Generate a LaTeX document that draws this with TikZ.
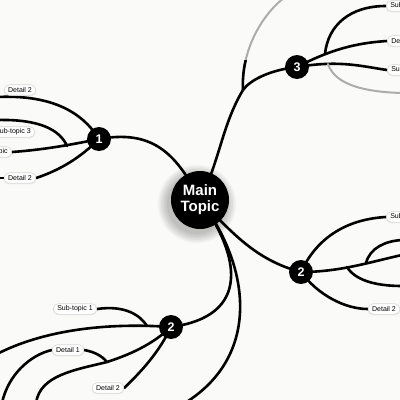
\documentclass[tikz,border=0pt]{standalone}
\usepackage{fontspec}
\setmainfont{Liberation Sans}
\pgfdeclarelayer{back}
\pgfdeclarelayer{bg}
\pgfsetlayers{back,bg,main}
\definecolor{paper}{RGB}{250,250,248}
\begin{document}
\begin{tikzpicture}[x=1pt,y=-1pt,
  link/.style={line width=2.6pt, line cap=round},
  faint/.style={line width=2pt, line cap=round, draw=gray!65},
  maintopic/.style={circle, fill=black, text=white, font=\bfseries\fontsize{15}{16}\selectfont, align=center, minimum size=58pt, inner sep=0pt},
  numnode/.style={circle, fill=black, text=white, font=\bfseries\fontsize{12.5}{13}\selectfont, minimum size=24pt, inner sep=0pt},
  pill/.style={rounded corners=5pt, draw=gray!30, line width=0.6pt, fill=white, font=\fontsize{7}{8}\selectfont, inner xsep=4pt, inner ysep=1.5pt, minimum height=10.5pt,
    preaction={draw=black, line width=1.2pt, opacity=0.06, transform canvas={yshift=-0.6pt}}},
  shade/.style={fill=black, opacity=0.035}]
\useasboundingbox (0,0) rectangle (400,400);
\begin{pgfonlayer}{back}
\fill[paper] (0,0) rectangle (400,400);
% soft shadow of the main topic
\foreach \r in {30,31.5,33,34.5,36,37.5,39} {
  \fill[shade] (197,204) circle[radius=\r];
}
\end{pgfonlayer}

% topic nodes
\node[maintopic] (main) at (200,200) {Main\\Topic};
\node[numnode] (n1) at (99,139) {1};
\node[numnode] (n3) at (297,67) {3};
\node[numnode] (n2r) at (301,272) {2};
\node[numnode] (n2b) at (171,327) {2};

% labels, branch 1
\node[pill] (d1a) at (20,90) {Detail 2};
\node[pill, anchor=east] (d1b) at (35,132) {Sub-topic 3};
\node[pill, anchor=east] (d1c) at (12,152) {Sub-topic};
\node[pill] (d1d) at (20,178) {Detail 2};
% labels, branch 3
\node[pill, anchor=west] (d3a) at (386,6) {Sub-topic 1};
\node[pill, anchor=west] (d3b) at (387,41) {Detail 1};
\node[pill, anchor=west] (d3c) at (387,70) {Sub-topic 2};
% labels, branch 2 right
\node[pill, anchor=west] (d2a) at (386,217) {Sub-topic 1};
\node[pill] (d2b) at (384,309) {Detail 2};
% labels, branch 2 bottom
\node[pill] (d4a) at (75,309) {Sub-topic 1};
\node[pill] (d4b) at (68,350) {Detail 1};
\node[pill] (d4c) at (108,388) {Detail 2};

% free ends and junctions
\coordinate (e1a) at (-3,97);
\coordinate (e1b) at (-3,120);
\coordinate (e1d) at (-3,178);
\coordinate (j1) at (67,146);
\coordinate (j3a) at (243,90);
\coordinate (e3a) at (285,-3);
\coordinate (j3b) at (325,54);
\coordinate (j3c) at (328,64);
\coordinate (e3c) at (402,93);
\coordinate (j2a) at (347,267);
\coordinate (j2b) at (366,263);
\coordinate (e2a) at (402,255);
\coordinate (e2b) at (402,240);
\coordinate (e2c) at (402,286);
\coordinate (e4a) at (-3,354);
\coordinate (j4a) at (147,326);
\coordinate (e4b) at (2,403);
\coordinate (e4c) at (36,403);
\coordinate (j4b) at (107,362);
\coordinate (e5) at (185,403);

\begin{pgfonlayer}{bg}
% main connections
\draw[link] (main.center) .. controls (175,150) and (150,130) .. (n1.center);
\draw[link] (main.center) .. controls (220,160) and (222,125) .. (j3a)
                          .. controls (250,80) and (270,70) .. (n3.center);
\draw[link] (main.center) .. controls (232,232) and (255,260) .. (n2r.center);
\draw[link] (main.center) .. controls (240,255) and (252,316) .. (n2b.center);
\draw[link] (main.center) .. controls (250,265) and (262,355) .. (e5);

% branch 1
\draw[link] (e1a) .. controls (40,95) and (78,105) .. (n1.center);
\draw[link] (e1b) .. controls (40,119) and (60,130) .. (j1);
\draw[link] (d1c.east) .. controls (40,150) and (65,146) .. (n1.center);
\draw[link] (e1d) -- (d1d.west);
\draw[link] (d1d.east) .. controls (60,170) and (80,158) .. (n1.center);

% branch 3
\draw[faint] (j3a) .. controls (241,55) and (258,18) .. (e3a);
\begin{scope}
  \clip (200,60) rectangle (280,100);
  \draw[link] (j3a) .. controls (241,55) and (258,18) .. (e3a);
\end{scope}
\draw[link] (n3.center) .. controls (330,50) and (355,43) .. (d3b.west);
\draw[link] (j3b) .. controls (328,25) and (350,6) .. (d3a.west);
\draw[link] (n3.center) .. controls (340,60) and (360,66) .. (d3c.west);
\draw[faint] (j3c) .. controls (335,85) and (365,92) .. (e3c);

% branch 2 right
\draw[link] (n2r.center) .. controls (318,235) and (350,219) .. (d2a.west);
\draw[link] (n2r.center) .. controls (340,272) and (370,262) .. (e2a);
\draw[link] (j2b) .. controls (370,248) and (385,241) .. (e2b);
\draw[link] (j2a) .. controls (355,280) and (375,286) .. (e2c);
\draw[link] (n2r.center) .. controls (318,295) and (345,309) .. (d2b.west);

% branch 2 bottom
\draw[link] (e4a) .. controls (40,332) and (100,322) .. (n2b.center);
\draw[link] (d4a.east) .. controls (125,305) and (140,315) .. (j4a);
\draw[link] (e4b) .. controls (8,375) and (30,355) .. (d4b.west);
\draw[link] (d4b.east) .. controls (95,352) and (102,356) .. (j4b);
\draw[link] (e4c) .. controls (40,375) and (75,370) .. (j4b);
\draw[link] (j4b) .. controls (135,353) and (155,342) .. (n2b.center);
\draw[link] (d4c.east) .. controls (145,368) and (160,350) .. (n2b.center);
\end{pgfonlayer}
\end{tikzpicture}
\end{document}
